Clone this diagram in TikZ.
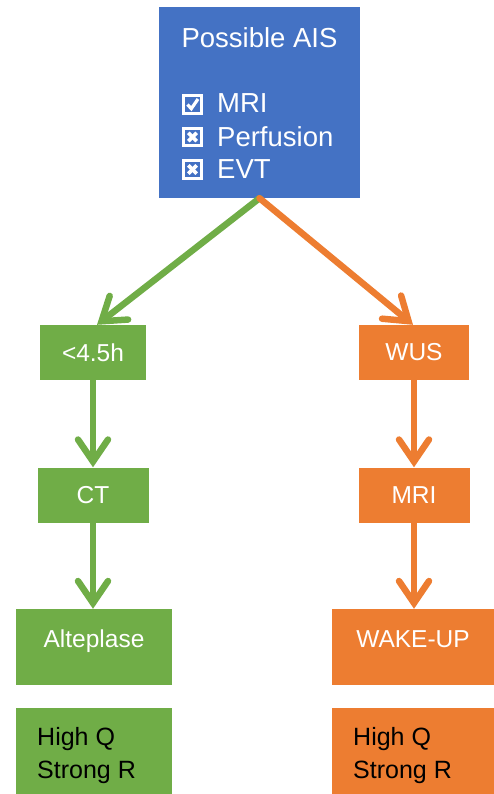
\documentclass[tikz,border=0pt]{standalone}
\usepackage{fontspec}
\setmainfont{Liberation Sans}
\usetikzlibrary{arrows.meta}

\definecolor{aisblue}{HTML}{4472C4}
\definecolor{ivgreen}{HTML}{70AD47}
\definecolor{wuorange}{HTML}{ED7D31}

\tikzset{
  box/.style={rectangle, inner sep=0pt, text=white},
  topbox/.style={box, fill=aisblue, minimum width=201pt, minimum height=191pt},
  smallbox/.style={box, minimum height=55pt, font=\fontsize{24.5}{29}\selectfont},
  tallbox/.style={box, minimum height=76pt, text height=38pt, text depth=38pt,
                  font=\fontsize{24.5}{29}\selectfont},
  lowbox/.style={rectangle, inner sep=0pt, minimum height=86pt},
  lowtext/.style={inner sep=0pt, anchor=north west, align=left, text=black,
                  font=\fontsize{25}{33}\selectfont},
  checkline/.style={inner sep=0pt, anchor=base west, text=white,
                  font=\fontsize{27.5}{33}\selectfont},
  chkbox/.style={rectangle, draw=white, line width=2.6pt, inner sep=0pt,
                 minimum width=17.5pt, minimum height=17.5pt},
  chkmark/.style={white, line width=3.2pt, line cap=butt, line join=miter},
  flow/.style={line width=6.5pt, line cap=round,
               -{Straight Barb[length=22pt,width=30pt,line cap=round]}},
}

\begin{document}
\begin{tikzpicture}[x=1pt, y=-1pt]
\useasboundingbox (0,0) rectangle (494,794);

% top decision box with its checklist
\node[topbox] (ais) at (259.5,102.5) {};
\node[checkline, anchor=base] (title) at (259.5,48) {Possible AIS};

\node[chkbox] (b1) at (192.5,104.5) {};
\node[chkbox] (b2) at (192.5,137) {};
\node[chkbox] (b3) at (192.5,169.5) {};
\draw[chkmark] ([shift={(-5,0)}]b1.center) -- ([shift={(-1.2,4.2)}]b1.center)
               -- ([shift={(5.5,-5.5)}]b1.center);
\foreach \b in {b2,b3}{
  \draw[chkmark, line width=3.6pt] ([shift={(-4.2,-4.2)}]\b.center) -- ([shift={(4.2,4.2)}]\b.center);
  \draw[chkmark, line width=3.6pt] ([shift={(-4.2,4.2)}]\b.center) -- ([shift={(4.2,-4.2)}]\b.center);
}

\node[checkline] (c1) at (217,113) {MRI};
\node[checkline] (c2) at (217,146.5) {Perfusion};
\node[checkline] (c3) at (217,179) {EVT};

% left branch
\node[smallbox, fill=ivgreen, minimum width=106pt] (g1) at (93,352.5) {<4.5h};
\node[smallbox, fill=ivgreen, minimum width=111pt] (g2) at (93,495) {CT};
\node[tallbox, fill=ivgreen, minimum width=156pt] (g3) at (94,647) {Alteplase};
\node[lowbox, fill=ivgreen, minimum width=156pt] (g4) at (94,751) {};
\node[lowtext] (g4t) at (37,727) {High Q\\Strong R};

% right branch
\node[smallbox, fill=wuorange, minimum width=110pt] (o1) at (414,352.5) {WUS};
\node[smallbox, fill=wuorange, minimum width=111pt] (o2) at (414,495) {MRI};
\node[tallbox, fill=wuorange, minimum width=162pt] (o3) at (413,647) {WAKE-UP};
\node[lowbox, fill=wuorange, minimum width=162pt] (o4) at (413,751) {};
\node[lowtext] (o4t) at (353,727) {High Q\\Strong R};

% connectors
\draw[flow, ivgreen] (ais.south) -- ([xshift=4pt]g1.north);
\draw[flow, wuorange] (ais.south) -- ([xshift=-1pt]o1.north);
\draw[flow, ivgreen] (g1.south) -- (g2.north);
\draw[flow, ivgreen] (g2.south) -- (g2.south |- g3.north);
\draw[flow, wuorange] (o1.south) -- (o2.north);
\draw[flow, wuorange] (o2.south) -- (o2.south |- o3.north);
\end{tikzpicture}
\end{document}
